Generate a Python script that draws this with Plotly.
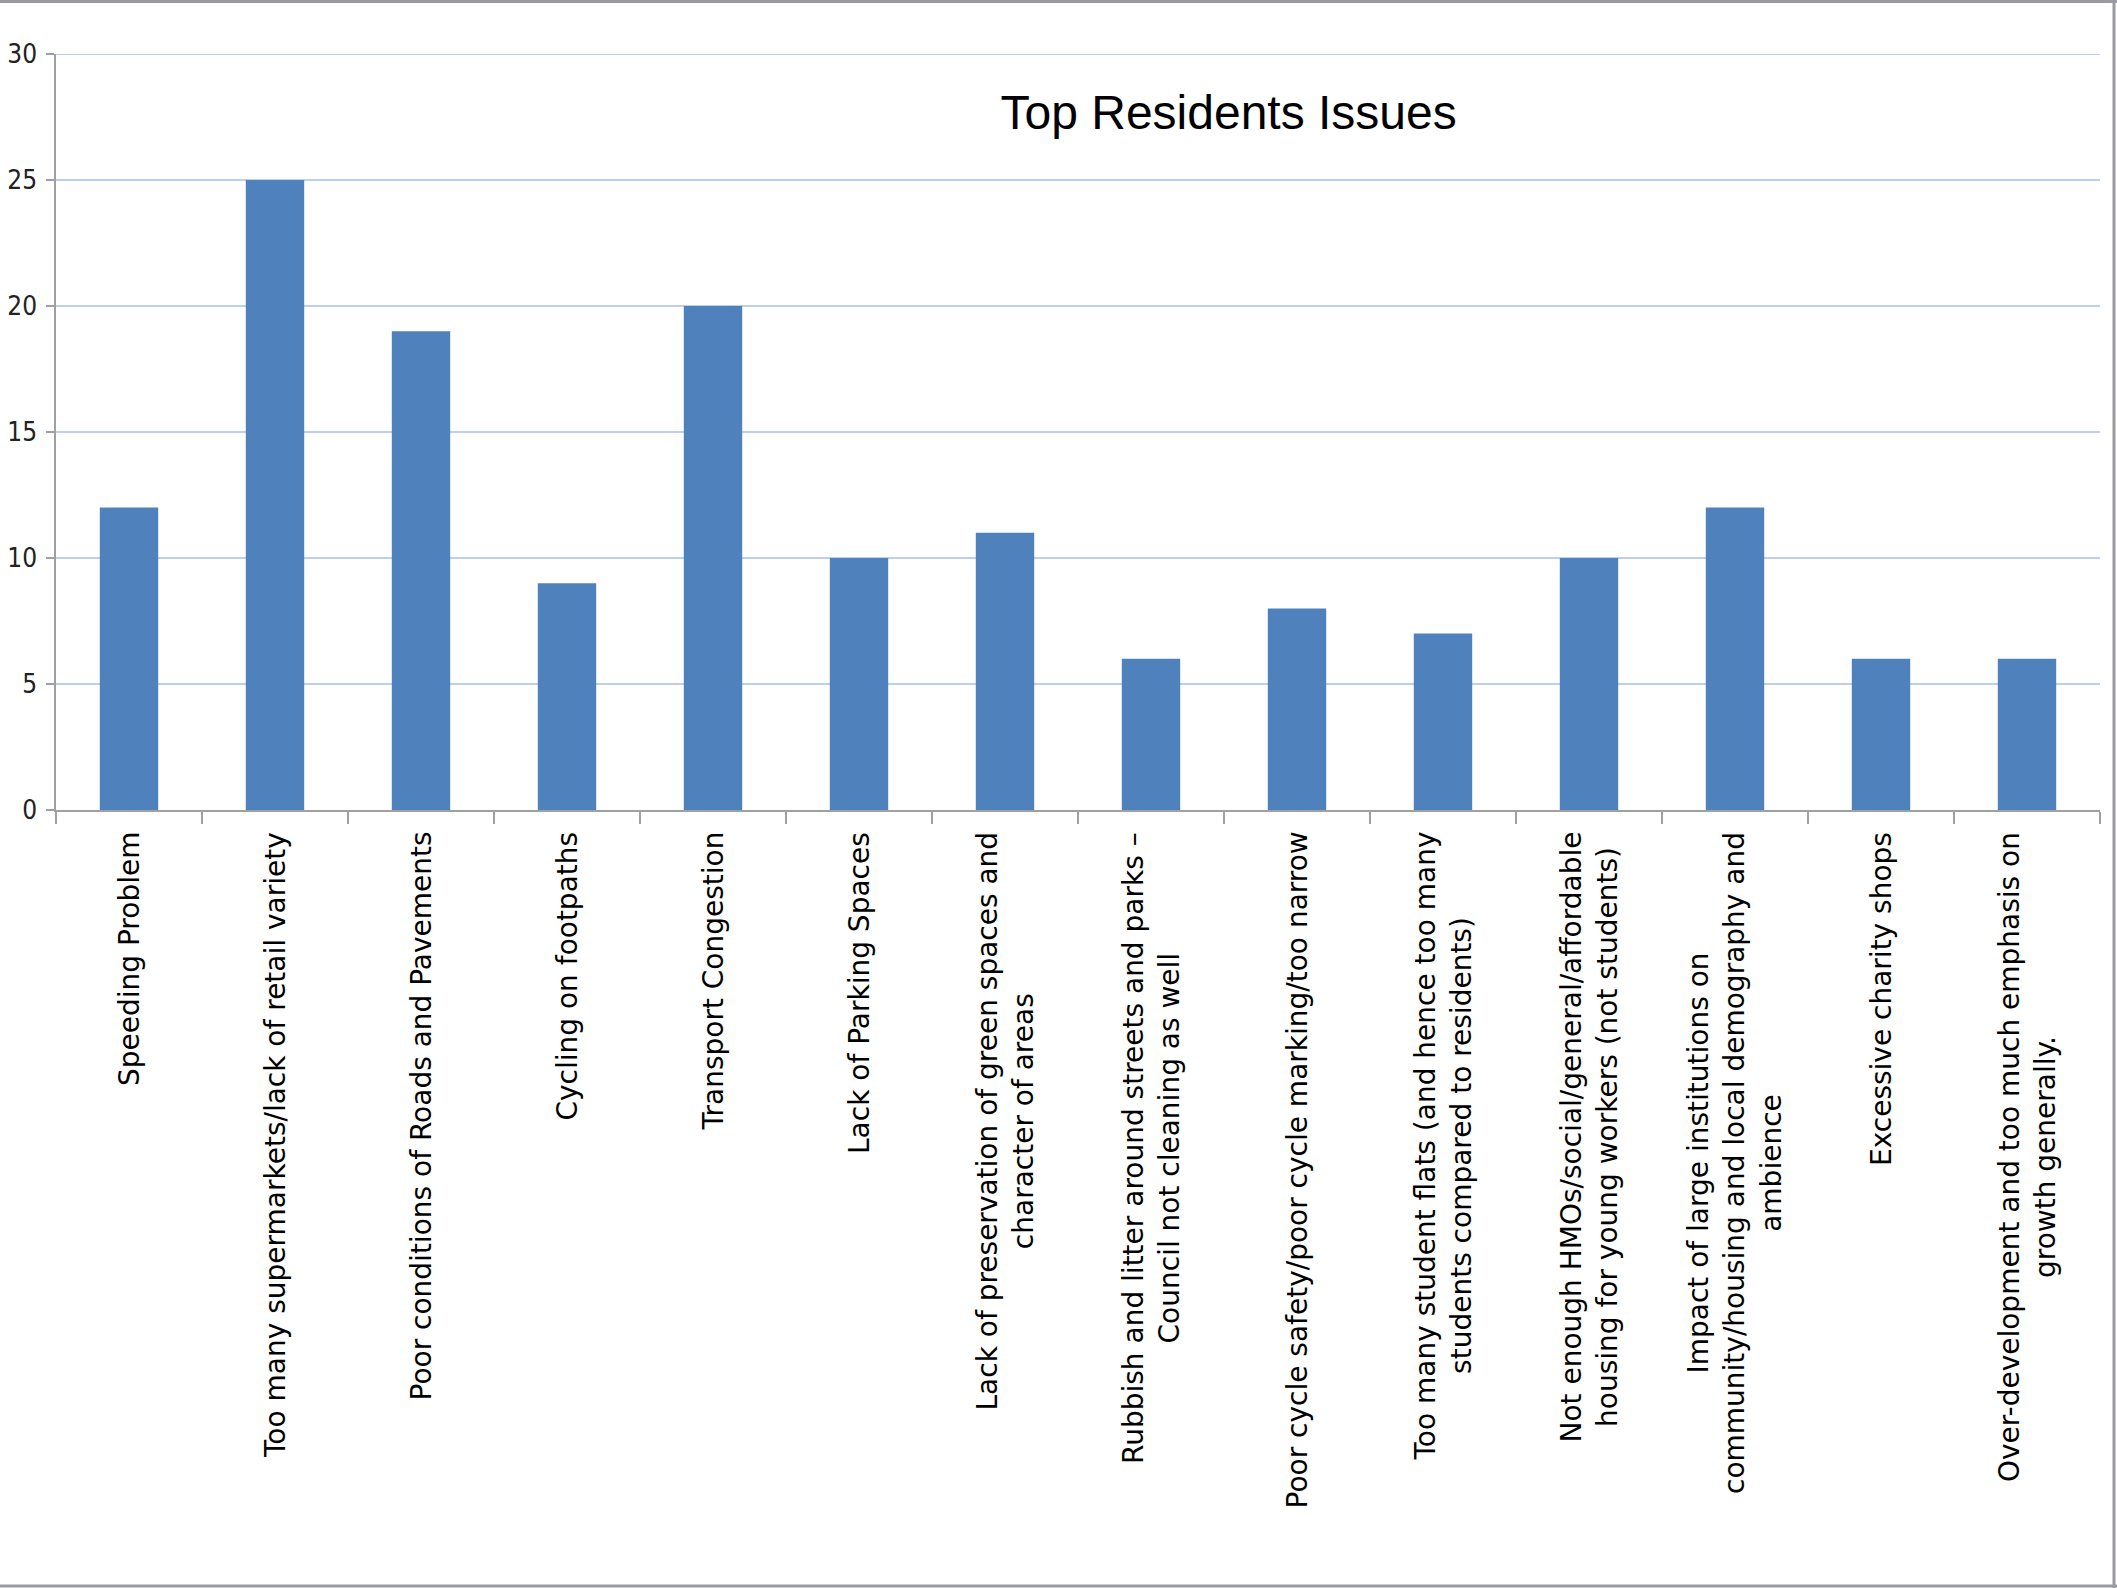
import plotly.graph_objects as go

categories = [
    "Speeding Problem",
    "Too many supermarkets/lack of retail variety",
    "Poor conditions of Roads and Pavements",
    "Cycling on footpaths",
    "Transport Congestion",
    "Lack of Parking Spaces",
    "Lack of preservation of green spaces and<br>character of areas",
    "Rubbish and litter around streets and parks \u2013<br>Council not cleaning as well",
    "Poor cycle safety/poor cycle marking/too narrow",
    "Too many student flats (and hence too many<br>students compared to residents)",
    "Not enough HMOs/social/general/affordable<br>housing for young workers (not students)",
    "Impact of large institutions on<br>community/housing and local demography and<br>ambience",
    "Excessive charity shops",
    "Over-development and too much emphasis on<br>growth generally.",
]
values = [12, 25, 19, 9, 20, 10, 11, 6, 8, 7, 10, 12, 6, 6]
y_ticks = [0, 5, 10, 15, 20, 25, 30]
title_text = "Top Residents Issues"

W, H = 2117, 1588
L, R, T, B = 56, 17, 54, 778
PW, PH = W - L - R, H - T - B


def px_x(px):
    return (px - L) / PW


def px_y(py):
    return (H - B - py) / PH


fig = go.Figure(
    go.Bar(
        x=list(range(len(categories))),
        y=values,
        marker=dict(color="#4f81bd", line=dict(width=0)),
    )
)

annotations = []
for i, lab in enumerate(categories):
    annotations.append(
        dict(
            x=i, y=0, xref="x", yref="paper",
            text=lab, showarrow=False, textangle=-90,
            xanchor="center", yanchor="top", yshift=-20, align="center",
            font=dict(family="DejaVu Sans", size=28, color="#000000"),
        )
    )

frame = dict(color="#9a9aa2", width=3)
grid_color = "#bccfee"
shapes = [
    dict(type="line", xref="paper", yref="paper", x0=px_x(0), x1=px_x(W), y0=px_y(1.5), y1=px_y(1.5), line=frame),
    dict(type="line", xref="paper", yref="paper", x0=px_x(2114), x1=px_x(2114), y0=px_y(0), y1=px_y(H), line=frame),
    dict(type="line", xref="paper", yref="paper", x0=px_x(0), x1=px_x(W), y0=px_y(1586), y1=px_y(1586), line=frame),
    dict(type="line", xref="paper", yref="y", x0=0, x1=1, y0=y_ticks[-1], y1=y_ticks[-1],
         line=dict(color=grid_color, width=2), layer="below"),
]

fig.update_layout(
    width=W, height=H,
    margin=dict(l=L, r=R, t=T, b=B, pad=0, autoexpand=False),
    paper_bgcolor="white", plot_bgcolor="white",
    bargap=0.6,
    showlegend=False,
    title=dict(
        text=title_text, x=1214.5 / W, xanchor="center", xref="paper",
        y=1 - 112 / H, yanchor="middle", yref="container",
        font=dict(family="Liberation Sans, Arial", size=48, color="#000000"),
    ),
    xaxis=dict(
        type="linear",
        range=[-0.5, len(categories) - 0.5],
        tickmode="array",
        tickvals=[i - 0.5 for i in range(len(categories) + 1)],
        ticktext=["" for _ in range(len(categories) + 1)],
        ticks="outside", ticklen=12, tickwidth=1.5, tickcolor="#a0a0a0",
        showline=True, linecolor="#a0a0a0", linewidth=1.5,
        showgrid=False, zeroline=False, showticklabels=False,
        fixedrange=True, automargin=False,
    ),
    yaxis=dict(
        range=[0, 30],
        tickmode="array", tickvals=y_ticks,
        ticktext=[str(v) for v in y_ticks],
        ticks="outside", ticklen=8, tickwidth=1.5, tickcolor="#a0a0a0",
        showline=True, linecolor="#a0a0a0", linewidth=1.5,
        showgrid=True, gridcolor=grid_color, gridwidth=1.5,
        zeroline=False, automargin=False,
        ticklabelstandoff=4,
        tickfont=dict(family="Liberation Sans Narrow, DejaVu Sans Condensed, sans-serif", size=26, color="#222222"),
    ),
    annotations=annotations,
    shapes=shapes,
)

fig.write_html("out.html")
